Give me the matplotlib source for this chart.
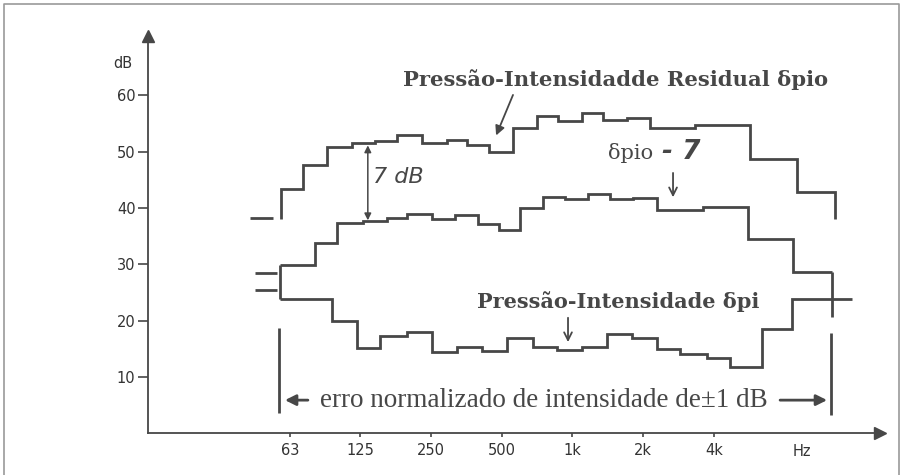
import matplotlib.pyplot as plt
from matplotlib.lines import Line2D
from matplotlib.ticker import NullLocator

# third-octave steps: step edges in Hz, levels in dB
upper_edges = [57.7, 71.5, 90.5, 115.6, 144.8, 179.6, 229.4, 293, 356.4, 442,
               559, 707, 868, 1098, 1349, 1707, 2138, 3321, 5690, 9016, 13078]
upper_db = [43.3, 47.6, 50.8, 51.5, 51.9, 52.9, 51.5, 52.0, 51.1, 49.9,
            54.1, 56.3, 55.4, 56.9, 55.6, 55.9, 54.1, 54.8, 48.7, 42.9]

mid_edges = [57.1, 80.5, 99.8, 128.7, 162.8, 198.1, 253.0, 316.9, 396.9, 487.5,
             598.7, 749.9, 930.1, 1165, 1445, 1810, 2289, 3592, 5579, 8666, 12697]
mid_db = [29.8, 33.8, 37.3, 37.7, 38.2, 38.9, 38.0, 38.7, 37.2, 36.1,
          39.9, 42.0, 41.5, 42.4, 41.5, 41.7, 39.7, 40.1, 34.4, 28.6]

low_edges = [57.1, 95.0, 121.4, 152.1, 198.1, 253.0, 323.1, 412.8, 527.2, 680.0,
             860.1, 1098.5, 1403, 1792, 2289, 2867, 3735, 4677, 6401, 8582, 15444]
low_db = [23.8, 20.0, 15.1, 17.3, 18.0, 14.5, 15.4, 14.7, 16.9, 15.4,
          14.8, 15.3, 17.6, 17.0, 14.9, 14.1, 13.3, 11.8, 18.5, 23.8]

upper_base_db = 38.0
mid_tail_db = 20.6

# short lead-in dashes at the left (upper, middle, lower)
dash_db = [38.2, 28.5, 25.4]
dash_lo_hz = [42.6, 44.7, 44.7]
dash_hi_hz = [53.3, 55.5, 55.5]

# limits of the +-1 dB normalised intensity error range
range_hz = [56.6, 12575]
range_lo_db = [3.6, 3.2]
range_hi_db = [18.7, 17.8]

tick_hz = [63, 125, 250, 500, 1000, 2000, 4000]
tick_lbl = ['63', '125', '250', '500', '1k', '2k', '4k']
ytick_db = [10, 20, 30, 40, 50, 60]

INK = '#474747'
LW = 2.0

fig = plt.figure(figsize=(9.03, 4.75), dpi=100)
ax = fig.add_axes([0.1639, 0.0876, 0.8106, 0.8366])
ax.set_xscale('log', base=2)
ax.set_xlim(15.7, 20300)
ax.set_ylim(0, 70.5)

ax.stairs(upper_db, upper_edges, baseline=upper_base_db, color=INK, lw=LW)
ax.stairs(mid_db, mid_edges, baseline=None, color=INK, lw=LW)
ax.stairs(low_db, low_edges, baseline=None, color=INK, lw=LW)
ax.vlines(mid_edges[0], low_db[0], mid_db[0], color=INK, lw=LW)
ax.vlines(mid_edges[-1], mid_tail_db, mid_db[-1], color=INK, lw=LW)
ax.hlines(dash_db, dash_lo_hz, dash_hi_hz, color=INK, lw=LW)
ax.vlines(range_hz, range_lo_db, range_hi_db, color=INK, lw=LW)

# axes
for s in ['top', 'right']:
    ax.spines[s].set_visible(False)
for s in ['left', 'bottom']:
    ax.spines[s].set_color(INK)
    ax.spines[s].set_linewidth(1.3)
ax.plot(1, 0, '>', color=INK, ms=9, transform=ax.transAxes, clip_on=False)
ax.plot(0, 1, '^', color=INK, ms=9, transform=ax.transAxes, clip_on=False)

ax.xaxis.set_minor_locator(NullLocator())
ax.set_xticks(tick_hz)
ax.set_xticklabels(tick_lbl)
ax.set_yticks(ytick_db)
ax.tick_params(axis='y', length=7, width=1.2, color=INK, pad=2,
               labelsize=10.5, labelcolor='#333333')
ax.tick_params(axis='x', length=3, width=1.2, color=INK, pad=4,
               labelsize=10.5, labelcolor='#333333')
ax.text(12.3, 65.7, 'dB', fontsize=10.5, color='#333333', ha='center',
        va='center', clip_on=False)
ax.text(9470, -3.3, 'Hz', fontsize=10.5, color='#333333', ha='center',
        va='center', clip_on=False)

# labels and pointers
serif_b = dict(family='DejaVu Serif', weight='bold', color=INK)
ax.text(190, 62.7, 'Pressão-Intensidadde Residual δpio', fontsize=15.2,
        ha='left', va='center', **serif_b)
ax.annotate('', xy=(469, 52.4), xytext=(565, 60.5),
            arrowprops=dict(arrowstyle='-|>', color=INK, lw=1.3,
                            mutation_scale=14))

ax.text(1417, 49.7, 'δpio', fontsize=15, family='DejaVu Serif', color=INK,
        ha='left', va='center')
ax.text(2404, 50.0, '- 7', fontsize=19, family='DejaVu Sans', weight='bold',
        style='italic', color=INK, ha='left', va='center')
ax.annotate('', xy=(2678, 41.4), xytext=(2678, 46.7),
            arrowprops=dict(arrowstyle='->', color=INK, lw=1.3,
                            mutation_scale=14))

ax.text(142, 45.5, '7 dB', fontsize=16, family='DejaVu Sans', style='italic',
        color=INK, ha='left', va='center')
ax.annotate('', xy=(135, 51.1), xytext=(135, 37.8),
            arrowprops=dict(arrowstyle='<|-|>', color=INK, lw=1.1,
                            mutation_scale=10, shrinkA=0, shrinkB=0))

ax.text(393, 23.3, 'Pressão-Intensidade δpi', fontsize=15,
        ha='left', va='center', **serif_b)
ax.annotate('', xy=(958, 15.7), xytext=(958, 21.0),
            arrowprops=dict(arrowstyle='->', color=INK, lw=1.3,
                            mutation_scale=14))

ax.text(757, 5.9, 'erro normalizado de intensidade de±1 dB', fontsize=19.5,
        family='Liberation Serif', color=INK, ha='center', va='center')
ax.annotate('', xy=(60, 5.9), xytext=(75.1, 5.9),
            arrowprops=dict(arrowstyle='-|>', color=INK, lw=2,
                            mutation_scale=16, shrinkA=0, shrinkB=0))
ax.annotate('', xy=(12096, 5.9), xytext=(7636, 5.9),
            arrowprops=dict(arrowstyle='-|>', color=INK, lw=2,
                            mutation_scale=16, shrinkA=0, shrinkB=0))

# scan border
fig.add_artist(Line2D([0.0045, 0.0045, 0.9955, 0.9955], [-0.01, 0.992, 0.992, -0.01],
                      transform=fig.transFigure, color='#9a9a9a', lw=1.2))

fig.savefig('out.png', dpi=100)
